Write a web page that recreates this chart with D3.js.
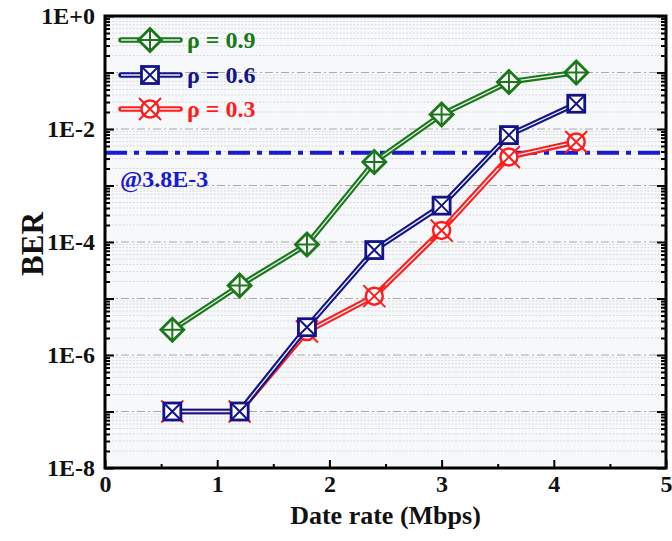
<!DOCTYPE html>
<html><head><meta charset="utf-8">
<script src="https://cdn.jsdelivr.net/npm/d3@7"></script>
<style>
html,body{margin:0;padding:0;background:#fff;}
text{font-family:"Liberation Serif","Times New Roman",serif;font-weight:bold;}
</style></head>
<body><svg id="c" width="672" height="541"></svg>
<script>
const rates = [0.6, 1.2, 1.8, 2.4, 3.0, 3.6, 4.2];
const ber09 = [2.8e-6, 1.7e-5, 9.0e-5, 2.6e-3, 1.8e-2, 6.8e-2, 1.0e-1];
const ber06 = [1e-7, 1e-7, 3.1e-6, 7.2e-5, 4.4e-4, 7.8e-3, 2.8e-2];
const ber03 = [1e-7, 1e-7, 2.6e-6, 1.1e-5, 1.6e-4, 3.2e-3, 5.9e-3];
const seriesNames = ["ρ = 0.9", "ρ = 0.6", "ρ = 0.3"];
const threshold = 3.8e-3;
const thresholdLabel = "@3.8E-3";
const xTicks = [0, 1, 2, 3, 4, 5];
const yTickLabels = ["1E-8", "1E-6", "1E-4", "1E-2", "1E+0"];
const yLabeled = [1e-8, 1e-6, 1e-4, 1e-2, 1];

const svg = d3.select("#c");
const L = 105, R = 666, T = 16, B = 468;
const x = d3.scaleLinear([0, 5], [L, R]);
const y = d3.scaleLog([1e-8, 1], [B, T]);

const colors = { g: "#1a781a", b: "#14148a", r: "#ff1c1c", th: "#1a1ad0" };

// background
svg.append("rect").attr("x", L).attr("y", T).attr("width", R - L).attr("height", B - T).attr("fill", "#f6f8fa");

// grid
const decades = d3.range(-8, 1).map(e => Math.pow(10, e));
const minors = [];
for (let e = -8; e < 0; e++) for (let k = 2; k <= 9; k++) minors.push(k * Math.pow(10, e));
svg.append("g").selectAll("line").data(minors).join("line")
  .attr("x1", L).attr("x2", R).attr("y1", d => y(d)).attr("y2", d => y(d))
  .attr("stroke", "#cfd3d6").attr("stroke-width", 0.8).attr("stroke-dasharray", "2,1.5");
svg.append("g").selectAll("line").data(decades.slice(1, -1)).join("line")
  .attr("x1", L).attr("x2", R).attr("y1", d => y(d)).attr("y2", d => y(d))
  .attr("stroke", "#a8a8a8").attr("stroke-width", 1).attr("stroke-dasharray", "8,3,2,3");

// axes ticks
function styleAxis(g) { g.select(".domain").remove(); g.selectAll("line").attr("stroke", "#000").attr("stroke-width", 2); }
const fmtY = d => { const i = yLabeled.findIndex(v => Math.abs(Math.log10(v) - Math.log10(d)) < 1e-6); return i >= 0 ? yTickLabels[i] : ""; };
svg.append("g").attr("transform", `translate(${L},0)`)
  .call(d3.axisLeft(y).tickValues(decades).tickSize(-9).tickPadding(10).tickFormat(fmtY))
  .call(styleAxis)
  .call(g => g.selectAll("text").attr("font-size", 24).attr("fill", "#111"));
svg.append("g").attr("transform", `translate(${L},0)`)
  .call(d3.axisLeft(y).tickValues(minors).tickSize(-5).tickFormat(""))
  .call(styleAxis);
svg.append("g").attr("transform", `translate(${R},0)`)
  .call(d3.axisRight(y).tickValues(decades).tickSize(-9).tickFormat(""))
  .call(styleAxis);
svg.append("g").attr("transform", `translate(${R},0)`)
  .call(d3.axisRight(y).tickValues(minors).tickSize(-5).tickFormat(""))
  .call(styleAxis);
svg.append("g").attr("transform", `translate(0,${B})`)
  .call(d3.axisBottom(x).tickValues(xTicks).tickSize(-8).tickPadding(7).tickFormat(d3.format("d")))
  .call(styleAxis)
  .call(g => g.selectAll("text").attr("font-size", 24).attr("fill", "#111"));
svg.append("g").attr("transform", `translate(0,${B})`)
  .call(d3.axisBottom(x).tickValues(d3.range(0.5, 5, 1)).tickSize(-4).tickFormat(""))
  .call(styleAxis);

// threshold
svg.append("line").attr("x1", L).attr("x2", R).attr("y1", y(threshold)).attr("y2", y(threshold))
  .attr("stroke", colors.th).attr("stroke-width", 4).attr("stroke-dasharray", "22,7,5,7");
svg.append("text").attr("x", 120).attr("y", y(threshold) + 34).attr("fill", colors.th)
  .attr("font-size", 24).text(thresholdLabel);

// markers
function marker(g, type, col) {
  if (type === "diamond") {
    const s = 11.5;
    g.append("path").attr("d", `M0,${-s}L${s},0L0,${s}L${-s},0Z`).attr("fill", "#fff").attr("stroke", col).attr("stroke-width", 2.8);
    g.append("path").attr("d", `M0,${-s}V${s}M${-s},0H${s}`).attr("stroke", col).attr("stroke-width", 2);
  } else if (type === "square") {
    const s = 8.5;
    g.append("rect").attr("x", -s).attr("y", -s).attr("width", 2 * s).attr("height", 2 * s).attr("fill", "#fff").attr("stroke", col).attr("stroke-width", 2.8);
    g.append("path").attr("d", `M${-s},${-s}L${s},${s}M${s},${-s}L${-s},${s}`).attr("stroke", col).attr("stroke-width", 2);
  } else {
    const r = 8.5, c = 11;
    g.append("circle").attr("r", r).attr("fill", "#fff").attr("stroke", col).attr("stroke-width", 2.5);
    g.append("path").attr("d", `M${-c},${-c}L${c},${c}M${c},${-c}L${-c},${c}`).attr("stroke", col).attr("stroke-width", 2);
  }
}

const series = [
  { vals: ber03, col: colors.r, type: "circle", name: seriesNames[2], ly: 109 },
  { vals: ber06, col: colors.b, type: "square", name: seriesNames[1], ly: 75 },
  { vals: ber09, col: colors.g, type: "diamond", name: seriesNames[0], ly: 40 },
];
const line = d3.line().x(d => x(d[0])).y(d => y(d[1]));
series.forEach(s => {
  const pts = rates.map((r, i) => [r, s.vals[i]]);
  svg.append("path").attr("d", line(pts)).attr("fill", "none").attr("stroke", s.col).attr("stroke-width", 5.5).attr("stroke-linejoin", "round");
  svg.append("path").attr("d", line(pts)).attr("fill", "none").attr("stroke", "#e8eef0").attr("stroke-width", 1.3);
  pts.forEach(p => marker(svg.append("g").attr("transform", `translate(${x(p[0])},${y(p[1])})`), s.type, s.col));
});

// legend
series.forEach(s => {
  const g = svg.append("g");
  g.append("line").attr("x1", 121).attr("x2", 180).attr("y1", s.ly).attr("y2", s.ly).attr("stroke", s.col).attr("stroke-width", 5.5).attr("stroke-linecap", "round");
  g.append("line").attr("x1", 121).attr("x2", 180).attr("y1", s.ly).attr("y2", s.ly).attr("stroke", "#e8eef0").attr("stroke-width", 1.3);
  marker(g.append("g").attr("transform", `translate(150,${s.ly})`), s.type, s.col);
  g.append("text").attr("x", 187).attr("y", s.ly + 8).attr("fill", s.col).attr("font-size", 24).text(s.name);
});

// frame
svg.append("rect").attr("x", L).attr("y", T).attr("width", R - L).attr("height", B - T).attr("fill", "none").attr("stroke", "#000").attr("stroke-width", 3);

// axis titles
svg.append("text").attr("x", (L + R) / 2).attr("y", 524).attr("text-anchor", "middle").attr("font-size", 26).attr("fill", "#111").text("Date rate (Mbps)");
svg.append("text").attr("transform", `translate(43,${(T + B) / 2 + 2}) rotate(-90)`).attr("text-anchor", "middle").attr("font-size", 31).attr("fill", "#111").text("BER");
</script></body></html>
